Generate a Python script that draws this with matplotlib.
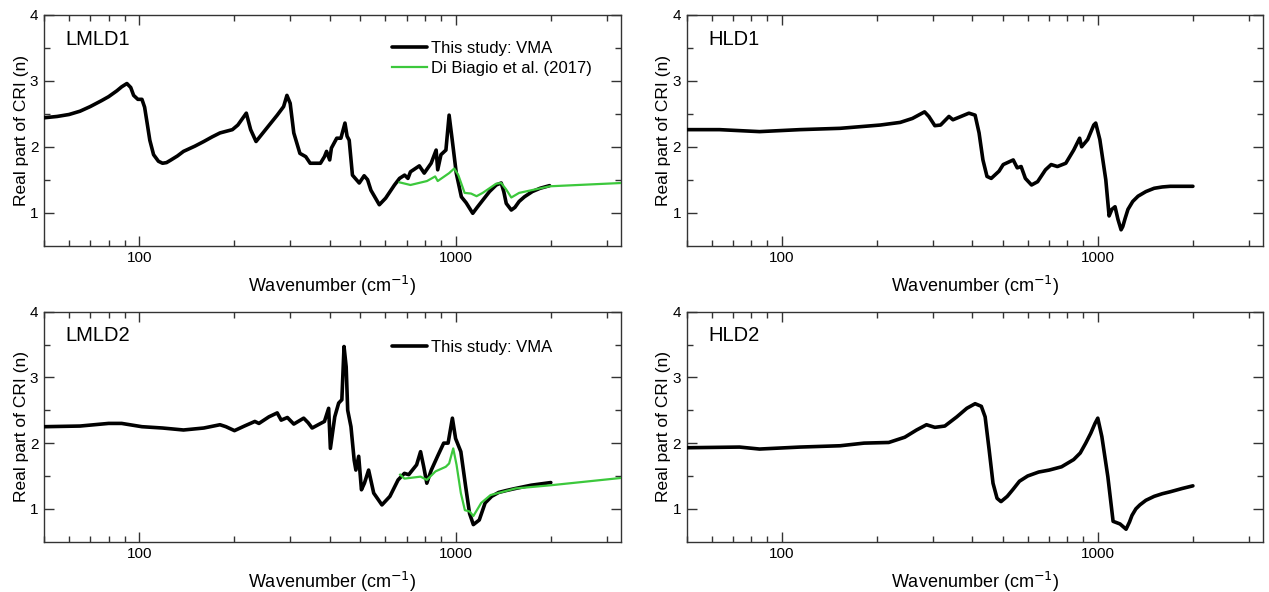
import numpy as np
import matplotlib
matplotlib.use("Agg")
import matplotlib.pyplot as plt
from matplotlib.ticker import LogLocator, NullFormatter, FixedLocator, FixedFormatter

plt.rcParams['font.family'] = ['Liberation Sans', 'DejaVu Sans']

# ---------------- data (wavenumber cm-1, real refractive index n) ----------------
lmld1_w = [50, 55, 60, 65, 70, 76, 80, 85, 88, 91.4, 94, 96, 99, 102, 104, 106, 108, 111, 115,
           118.5, 122, 126, 132, 138, 150, 160, 170, 180, 190, 197, 205,
           218, 225, 234, 246, 273, 286, 293, 300, 308, 322, 336, 347, 374, 385, 391, 400, 405,
           421, 434, 447, 454, 461, 472, 496, 514, 527, 540, 574, 601, 641, 665, 690, 707, 720,
           768, 796, 837, 868, 878, 899, 932, 954, 976, 1005, 1043, 1080, 1133, 1170, 1219, 1280,
           1344, 1394, 1420, 1446, 1500, 1540, 1588, 1650, 1748, 1850, 1982]
lmld1_n = [2.44, 2.46, 2.49, 2.54, 2.61, 2.70, 2.76, 2.85, 2.91, 2.96, 2.90, 2.78, 2.72, 2.72, 2.60,
           2.35, 2.10, 1.88, 1.78, 1.75, 1.76, 1.80, 1.86, 1.93, 2.01, 2.08, 2.15, 2.21, 2.24, 2.26,
           2.33, 2.51, 2.26, 2.08, 2.21, 2.48, 2.61, 2.78, 2.66, 2.21, 1.90, 1.85, 1.75,
           1.75, 1.85, 1.93, 1.80, 1.98, 2.13, 2.13, 2.36, 2.16, 2.10, 1.57, 1.45, 1.56, 1.50, 1.34,
           1.12, 1.22, 1.42, 1.52, 1.57, 1.52, 1.62, 1.71, 1.60, 1.75, 1.95, 1.65, 1.88, 1.95, 2.48,
           2.10, 1.60, 1.24, 1.15, 0.99, 1.08, 1.19, 1.32, 1.42, 1.45, 1.32, 1.14, 1.04, 1.08, 1.17,
           1.24, 1.32, 1.37, 1.41]

lmld1_db_w = [665, 720, 812, 862, 878, 954, 990, 1020, 1068, 1119, 1165, 1218, 1344, 1394, 1446,
              1500, 1588, 1982, 3333]
lmld1_db_n = [1.46, 1.42, 1.48, 1.55, 1.48, 1.60, 1.67, 1.57, 1.30, 1.29, 1.25, 1.30, 1.44, 1.45,
              1.35, 1.23, 1.30, 1.40, 1.45]

lmld2_w = [50, 65, 80, 88, 102, 118.5, 138, 160, 180, 188, 200, 215, 232, 239, 257, 273, 281, 294,
           308, 331, 342, 352, 368, 385, 397, 402, 415, 427, 437, 444, 451, 456, 467, 478, 484, 494,
           504, 515, 531, 551, 585, 620, 658, 689, 711, 753, 775, 793, 811, 838, 877, 917, 947, 977,
           1000, 1039, 1076, 1107, 1138, 1188, 1240, 1300, 1369, 1450, 1546, 1735, 2000]
lmld2_n = [2.25, 2.26, 2.30, 2.30, 2.25, 2.23, 2.20, 2.23, 2.28, 2.25, 2.19, 2.26, 2.33, 2.30, 2.40,
           2.46, 2.35, 2.39, 2.29, 2.38, 2.31, 2.23, 2.28, 2.33, 2.53, 1.92, 2.40, 2.61, 2.66, 3.47,
           3.16, 2.50, 2.25, 1.74, 1.59, 1.80, 1.29, 1.39, 1.59, 1.24, 1.06, 1.19, 1.44, 1.54, 1.52,
           1.67, 1.87, 1.64, 1.39, 1.59, 1.80, 2.00, 2.00, 2.38, 2.07, 1.87, 1.34, 0.93, 0.76, 0.83,
           1.09, 1.19, 1.25, 1.28, 1.31, 1.36, 1.40]

lmld2_db_w = [668, 689, 775, 811, 864, 931, 954, 983, 1007, 1039, 1070, 1107, 1138, 1205, 1290,
              1546, 2010, 3333]
lmld2_db_n = [1.52, 1.46, 1.49, 1.44, 1.57, 1.64, 1.69, 1.92, 1.67, 1.24, 0.98, 0.96, 0.89, 1.09,
              1.21, 1.31, 1.36, 1.47]

hld1_w = [50, 63.5, 85, 114, 153, 205, 237, 259, 283, 292, 305, 318, 338, 348, 369, 391, 409, 421,
          433, 446, 460, 487, 502, 540, 556, 572, 590, 617, 645, 683, 712, 745, 792, 839, 876, 889,
          929, 971, 985, 1015, 1060, 1086, 1108, 1134, 1158, 1185, 1200, 1220, 1246, 1290, 1341,
          1420, 1508, 1600, 1696, 2000]
hld1_n = [2.26, 2.26, 2.23, 2.26, 2.28, 2.33, 2.37, 2.43, 2.53, 2.46, 2.32, 2.33, 2.46, 2.41, 2.46,
          2.51, 2.48, 2.21, 1.80, 1.55, 1.52, 1.63, 1.73, 1.80, 1.68, 1.70, 1.52, 1.42, 1.47, 1.65,
          1.73, 1.70, 1.75, 1.95, 2.13, 2.00, 2.11, 2.33, 2.36, 2.11, 1.50, 0.95, 1.05, 1.09, 0.90,
          0.74, 0.79, 0.91, 1.05, 1.17, 1.25, 1.32, 1.37, 1.39, 1.40, 1.40]

hld2_w = [50, 73.5, 85, 114, 153, 182, 218, 245, 267, 287, 305, 328, 358, 385, 409, 428, 440, 453,
          466, 480, 494, 517, 540, 565, 600, 650, 702, 768, 839, 880, 916, 950, 980, 1000, 1030,
          1076, 1118, 1176, 1229, 1260, 1283, 1320, 1359, 1420, 1508, 1600, 1696, 1850, 2000]
hld2_n = [1.93, 1.94, 1.91, 1.94, 1.96, 2.00, 2.01, 2.09, 2.20, 2.28, 2.24, 2.26, 2.40, 2.53, 2.60,
          2.56, 2.40, 1.90, 1.39, 1.16, 1.11, 1.19, 1.30, 1.42, 1.50, 1.56, 1.59, 1.64, 1.75, 1.85,
          2.00, 2.15, 2.30, 2.38, 2.10, 1.49, 0.81, 0.77, 0.69, 0.80, 0.90, 1.00, 1.06, 1.13, 1.19,
          1.23, 1.26, 1.31, 1.35]

panel_names = ["LMLD1", "HLD1", "LMLD2", "HLD2"]
legend_vma = "This study: VMA"
legend_db = "Di Biagio et al. (2017)"
xlabel = "Wavenumber (cm$^{-1}$)"
ylabel = "Real part of CRI (n)"

# ---------------- figure ----------------
W, H = 1269, 592
fig = plt.figure(figsize=(W / 100, H / 100), dpi=100)

def rect(x0, y0, x1, y1):
    return [x0 / W, 1 - y1 / H, (x1 - x0) / W, (y1 - y0) / H]

axes = [fig.add_axes(rect(44, 15, 621, 245.6)),
        fig.add_axes(rect(686.7, 15, 1263, 245.6)),
        fig.add_axes(rect(44, 311.7, 621, 541.7)),
        fig.add_axes(rect(686.7, 311.7, 1263, 541.7))]

green = '#3cc83c'
black_lw = 2.6
green_lw = 1.6

data = [(lmld1_w, lmld1_n, lmld1_db_w, lmld1_db_n),
        (hld1_w, hld1_n, None, None),
        (lmld2_w, lmld2_n, lmld2_db_w, lmld2_db_n),
        (hld2_w, hld2_n, None, None)]

for i, (ax, (w, n, dw, dn)) in enumerate(zip(axes, data)):
    hb, = ax.plot(w, n, color='black', lw=black_lw, solid_joinstyle='round',
                  solid_capstyle='round', label=legend_vma, zorder=3)
    if dw is not None:
        hg, = ax.plot(dw, dn, color=green, lw=green_lw, solid_joinstyle='round',
                      label=legend_db, zorder=4)
    ax.set_xscale('log')
    ax.set_xlim(50, 3333.3)
    ax.set_ylim(0.5, 4)
    ax.xaxis.set_major_locator(FixedLocator([100, 1000]))
    ax.xaxis.set_major_formatter(FixedFormatter(["100", "1000"]))
    ax.xaxis.set_minor_locator(LogLocator(base=10, subs=np.arange(2, 10), numticks=20))
    ax.xaxis.set_minor_formatter(NullFormatter())
    ax.yaxis.set_major_locator(FixedLocator([1, 2, 3, 4]))
    ax.yaxis.set_minor_locator(FixedLocator([1.5, 2.5, 3.5]))
    ax.tick_params(which='both', direction='in', top=True, right=True,
                   color='#333333', width=1.0, labelsize=11, pad=4)
    ax.tick_params(which='major', length=7)
    ax.tick_params(which='minor', length=4)
    for s in ax.spines.values():
        s.set_color('#333333')
        s.set_linewidth(1.0)
    ax.set_xlabel(xlabel, fontsize=13, labelpad=6)
    ax.set_ylabel(ylabel, fontsize=12.5, labelpad=1)
    ax.text(0.037, 0.895, panel_names[i], transform=ax.transAxes, fontsize=14.5,
            va='center', ha='left')

    if i == 0:
        ax.legend(handles=[hb, hg], loc='upper left', bbox_to_anchor=(0.603, 0.888),
                  frameon=False, fontsize=12, handlelength=2.1, handletextpad=0.25,
                  labelspacing=0.3, borderpad=0, borderaxespad=0)
    elif i == 2:
        ax.legend(handles=[hb], loc='upper left', bbox_to_anchor=(0.603, 0.878),
                  frameon=False, fontsize=12, handlelength=2.1, handletextpad=0.25,
                  borderpad=0, borderaxespad=0)

fig.savefig("out.png", dpi=100)
